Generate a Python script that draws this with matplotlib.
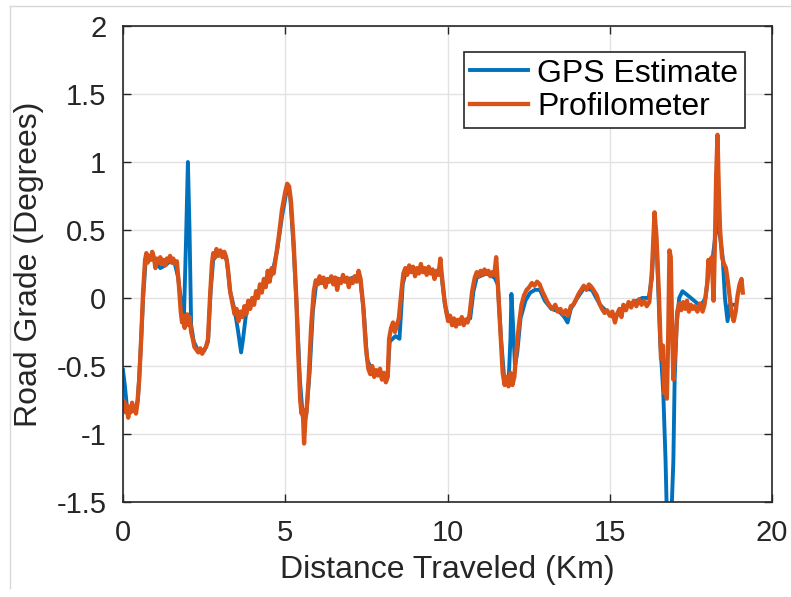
import numpy as np
import matplotlib
matplotlib.use("Agg")
from matplotlib import pyplot as plt
from matplotlib.lines import Line2D

# Profilometer reference (km, degrees)
prof_x = [0.00, 0.04, 0.08, 0.12, 0.16, 0.20, 0.24, 0.28, 0.32, 0.36, 0.40, 0.44,
          0.50, 0.56, 0.62, 0.68,
          0.72, 0.76, 0.80, 0.85, 0.90, 0.95, 1.00, 1.05, 1.10, 1.15, 1.20, 1.25, 1.30,
          1.35, 1.40, 1.45, 1.50, 1.55, 1.60, 1.66,
          1.72, 1.78, 1.82, 1.86, 1.90, 1.94, 1.98, 2.02, 2.06, 2.10, 2.15, 2.20, 2.26,
          2.32, 2.38, 2.44, 2.50, 2.56, 2.62,
          2.68, 2.74, 2.78, 2.84, 2.88, 2.94, 3.00, 3.06, 3.12, 3.18,
          3.24, 3.30, 3.38, 3.44, 3.50, 3.56, 3.62, 3.68, 3.74, 3.80, 3.86, 3.92, 3.98,
          4.04, 4.10, 4.16, 4.22, 4.28, 4.34, 4.40, 4.46, 4.52, 4.58, 4.64, 4.70,
          4.80, 4.90, 5.00, 5.06, 5.12, 5.18, 5.26, 5.34, 5.40, 5.46, 5.50, 5.54, 5.58,
          5.62, 5.66, 5.72, 5.80, 5.88, 5.94,
          6.00, 6.06, 6.12, 6.18, 6.24, 6.30, 6.36, 6.42, 6.48, 6.54, 6.60, 6.66, 6.72,
          6.78, 6.84, 6.90, 6.96, 7.02, 7.08, 7.14, 7.20, 7.26, 7.32,
          7.40, 7.48, 7.56, 7.62, 7.68, 7.74, 7.80, 7.86, 7.92, 7.98, 8.04, 8.10, 8.16,
          8.20, 8.26, 8.32, 8.38, 8.44, 8.50,
          8.58, 8.64, 8.70, 8.76, 8.82, 8.88, 8.94, 9.00, 9.06, 9.12, 9.18, 9.24, 9.30,
          9.36, 9.42, 9.48, 9.54, 9.60, 9.66, 9.72, 9.78, 9.82,
          9.90, 9.96, 10.02, 10.08, 10.14, 10.20, 10.26, 10.32, 10.38, 10.44, 10.50,
          10.56, 10.62, 10.68,
          10.76, 10.84, 10.90, 10.96, 11.02, 11.08, 11.14, 11.20, 11.26, 11.32, 11.38,
          11.44, 11.50, 11.54,
          11.62, 11.70, 11.76, 11.82, 11.88, 11.94, 12.00, 12.06, 12.12,
          12.20, 12.28, 12.36, 12.44, 12.52, 12.60, 12.68, 12.76, 12.84, 12.92, 13.00,
          13.08, 13.16, 13.24, 13.32, 13.40, 13.48, 13.56, 13.64, 13.72, 13.80, 13.88,
          13.96, 14.04, 14.12, 14.20, 14.28, 14.36, 14.44, 14.52, 14.60, 14.68, 14.76,
          14.84, 14.92, 15.00, 15.08, 15.16, 15.22, 15.30, 15.36, 15.42, 15.50, 15.58,
          15.66, 15.74, 15.82, 15.90, 15.98, 16.06, 16.14, 16.22,
          16.30, 16.38, 16.44, 16.52, 16.58, 16.64, 16.68, 16.72, 16.76, 16.80, 16.84,
          16.88, 16.92, 16.96, 17.00, 17.04, 17.08, 17.14, 17.20, 17.26, 17.32, 17.38,
          17.44, 17.50, 17.56, 17.62, 17.70, 17.78, 17.86, 17.92, 18.00, 18.04, 18.08,
          18.14, 18.20, 18.24, 18.28, 18.32, 18.36, 18.40, 18.46, 18.52, 18.58, 18.64,
          18.70, 18.76, 18.82, 18.88, 18.94, 19.00, 19.06, 19.10]
prof_y = [-0.80, -0.76, -0.84, -0.79, -0.88, -0.80, -0.84, -0.77, -0.83, -0.80, -0.85, -0.78,
          -0.60, -0.30, 0.05, 0.28,
          0.33, 0.26, 0.31, 0.28, 0.34, 0.30, 0.22, 0.29, 0.26, 0.30, 0.25, 0.28, 0.24,
          0.29, 0.27, 0.31, 0.26, 0.29, 0.25, 0.27,
          0.10, -0.10, -0.18, -0.13, -0.22, -0.15, -0.12, -0.20, -0.14, -0.25, -0.30, -0.36, -0.38,
          -0.40, -0.37, -0.41, -0.38, -0.36, -0.30,
          0.00, 0.25, 0.33, 0.30, 0.36, 0.31, 0.35, 0.30, 0.34, 0.30,
          0.20, 0.05, -0.05, -0.12, -0.08, -0.17, -0.10, -0.14, -0.06, -0.12, -0.02, -0.08, 0.00,
          -0.05, 0.05, 0.00, 0.10, 0.04, 0.14, 0.08, 0.20, 0.12, 0.22, 0.18, 0.28,
          0.45, 0.65, 0.78, 0.84, 0.82, 0.70, 0.40, 0.00, -0.40, -0.75, -0.85, -0.82, -1.07,
          -0.90, -0.82, -0.60, -0.20, 0.05, 0.13,
          0.10, 0.16, 0.11, 0.15, 0.08, 0.14, 0.12, 0.16, 0.10, 0.15, 0.06, 0.14, 0.11,
          0.17, 0.12, 0.15, 0.08, 0.14, 0.11, 0.16, 0.12, 0.20, 0.14,
          -0.05, -0.35, -0.52, -0.56, -0.50, -0.58, -0.53, -0.57, -0.52, -0.60, -0.55, -0.62, -0.58,
          -0.30, -0.22, -0.18, -0.25, -0.20, -0.15,
          0.05, 0.18, 0.22, 0.17, 0.24, 0.19, 0.23, 0.16, 0.22, 0.18, 0.25, 0.19, 0.22,
          0.17, 0.23, 0.18, 0.21, 0.14, 0.20, 0.17, 0.29, 0.18,
          0.00, -0.10, -0.17, -0.13, -0.20, -0.15, -0.21, -0.16, -0.19, -0.14, -0.20,
          -0.16, -0.18, -0.12,
          0.05, 0.15, 0.19, 0.16, 0.20, 0.17, 0.21, 0.18, 0.20, 0.16, 0.19,
          0.17, 0.30, 0.15,
          -0.20, -0.55, -0.64, -0.58, -0.65, -0.55, -0.64, -0.58, -0.40,
          -0.20, -0.05, 0.02, 0.06, 0.08, 0.11, 0.09, 0.12, 0.10, 0.05, 0.01,
          -0.03, -0.06, -0.08, -0.05, -0.10, -0.08, -0.12, -0.09, -0.13, -0.06, -0.05,
          -0.01, 0.03, 0.06, 0.09, 0.06, 0.10, 0.08, 0.05, 0.02, -0.04, -0.08,
          -0.11, -0.09, -0.13, -0.10, -0.18, -0.12, -0.08, -0.14, -0.05, -0.09, -0.03,
          -0.07, -0.02, -0.06, -0.01, -0.05, -0.02, -0.06, -0.03,
          0.20, 0.63, 0.45, 0.00, -0.45, -0.35, -0.70, -0.50, -0.74, -0.30, 0.35,
          0.30, -0.20, -0.60, -0.45, -0.30, -0.10, -0.04, -0.09, -0.03, -0.08, -0.02,
          -0.10, -0.05, -0.08, -0.06, -0.10, -0.04, -0.10, -0.05, 0.10, 0.28, 0.20,
          0.30, -0.02, 0.40, 0.90, 1.20, 0.80, 0.50, 0.30, 0.25, 0.22, 0.12,
          0.00, -0.12, -0.17, -0.10, 0.02, 0.10, 0.14, 0.04]

# GPS based estimate
gps_x = [0.00, 0.06, 0.12, 0.25, 0.40, 0.46, 0.54, 0.62, 0.70, 0.80, 0.95, 1.05, 1.15,
         1.30, 1.45, 1.60, 1.70, 1.80, 1.88, 1.94, 2.00, 2.05, 2.10, 2.18, 2.30, 2.50,
         2.62, 2.70, 2.78, 2.90, 3.05, 3.20, 3.30, 3.45, 3.55, 3.64, 3.70, 3.80, 4.00,
         4.20, 4.40, 4.60, 4.75, 4.90, 5.05, 5.15, 5.25, 5.35, 5.45, 5.55, 5.65, 5.75,
         5.85, 5.95, 6.20, 6.50, 6.80, 7.10, 7.30, 7.42, 7.52, 7.70, 7.95, 8.15, 8.22,
         8.40, 8.52, 8.62, 8.72, 9.00, 9.30, 9.60, 9.80, 9.92, 10.05, 10.40, 10.70,
         10.80, 10.90, 11.20, 11.45, 11.55, 11.65, 11.75, 11.88, 11.94, 11.97, 12.02,
         12.08, 12.15, 12.25, 12.40, 12.55, 12.70, 12.85, 13.00, 13.20, 13.45, 13.60,
         13.70, 13.80, 14.00, 14.20, 14.45, 14.70, 14.95, 15.15, 15.35, 15.55, 15.75,
         16.00, 16.20, 16.30, 16.38, 16.46, 16.55, 16.65, 16.72, 16.76, 16.90, 16.96,
         17.00, 17.06, 17.14, 17.24, 17.40, 17.60, 17.80, 17.95, 18.05, 18.15, 18.25,
         18.32, 18.40, 18.48, 18.55, 18.63, 18.70, 18.85]
gps_y = [-0.53, -0.65, -0.80, -0.82, -0.80, -0.75, -0.40, 0.00, 0.28, 0.30, 0.28, 0.25, 0.22,
         0.24, 0.27, 0.25, 0.15, -0.05, -0.12, 0.40, 1.00, 0.50, -0.20, -0.32, -0.38, -0.39,
         -0.32, 0.05, 0.28, 0.32, 0.33, 0.28, 0.05, -0.10, -0.25, -0.40, -0.30, -0.10, -0.03,
         0.05, 0.10, 0.18, 0.35, 0.60, 0.80, 0.76, 0.40, -0.05, -0.60, -0.90, -0.85, -0.55,
         -0.10, 0.10, 0.12, 0.15, 0.13, 0.15, 0.16, -0.10, -0.45, -0.55, -0.56, -0.58, -0.32,
         -0.28, -0.30, 0.10, 0.20, 0.20, 0.21, 0.18, 0.20, -0.05, -0.17, -0.17, -0.15,
         0.05, 0.15, 0.18, 0.15, 0.10, -0.30, -0.60, -0.63, -0.30, 0.03, -0.20,
         -0.50, -0.40, -0.15, -0.02, 0.04, 0.06, 0.06, -0.02, -0.08, -0.10, -0.14,
         -0.18, -0.08, 0.00, 0.07, 0.06, -0.05, -0.11, -0.15, -0.09, -0.05, -0.03,
         0.00, 0.00, 0.15, 0.55, 0.30, -0.30, -0.70, -1.20, -1.60, -1.60, -1.20,
         -0.60, -0.20, 0.00, 0.05, 0.02, -0.02, -0.06, 0.00, 0.20, 0.25, 0.45,
         0.58, 0.45, 0.30, 0.00, -0.17, -0.05, -0.05]

x_ticks = [0, 5, 10, 15, 20]
y_ticks = [-1.5, -1, -0.5, 0, 0.5, 1, 1.5, 2]
y_tick_labels = ['-1.5', '-1', '-0.5', '0', '0.5', '1', '1.5', '2']

plt.rcParams['font.family'] = ['Liberation Sans', 'DejaVu Sans']
ink = '#262626'

fig = plt.figure(figsize=(7.91, 5.97), dpi=100)
# faint screenshot frame on the top and left
fig.add_artist(Line2D([10 / 791, 1.0], [1 - 6 / 597, 1 - 6 / 597], transform=fig.transFigure,
                      color='#d8d8d8', linewidth=1))
fig.add_artist(Line2D([10 / 791, 10 / 791], [9 / 597, 1 - 6 / 597], transform=fig.transFigure,
                      color='#d8d8d8', linewidth=1))

ax = fig.add_axes([123 / 791, 95 / 597, 649 / 791, 476 / 597])

ax.plot(gps_x, gps_y, color='#0072BD', linewidth=2.8, label='GPS Estimate')
ax.plot(prof_x, prof_y, color='#D95319', linewidth=3.1, label='Profilometer')

ax.set_xlim(0, 20)
ax.set_ylim(-1.5, 2)
ax.set_xticks(x_ticks)
ax.set_yticks(y_ticks)
ax.set_yticklabels(y_tick_labels)
ax.grid(True, color='#e2e2e2', linewidth=1)
ax.set_axisbelow(True)
ax.tick_params(direction='in', top=True, right=True, length=6, labelsize=21,
               colors=ink, width=1)
ax.tick_params(axis='x', pad=12)
ax.tick_params(axis='y', pad=12)
for s in ax.spines.values():
    s.set_color(ink)
    s.set_linewidth(1.2)

ax.set_xlabel('Distance Traveled (Km)', fontsize=23, color=ink, labelpad=6)
ax.set_ylabel('Road Grade (Degrees)', fontsize=23, color=ink, labelpad=9)

leg = ax.legend(loc='upper right', bbox_to_anchor=(0.958, 0.945), fontsize=23,
                fancybox=False, edgecolor=ink, framealpha=1, borderaxespad=0,
                handlelength=1.8, handletextpad=0.3, borderpad=0.2, labelspacing=0.1)
leg.get_frame().set_linewidth(1.2)

fig.savefig('out.png', dpi=100)
